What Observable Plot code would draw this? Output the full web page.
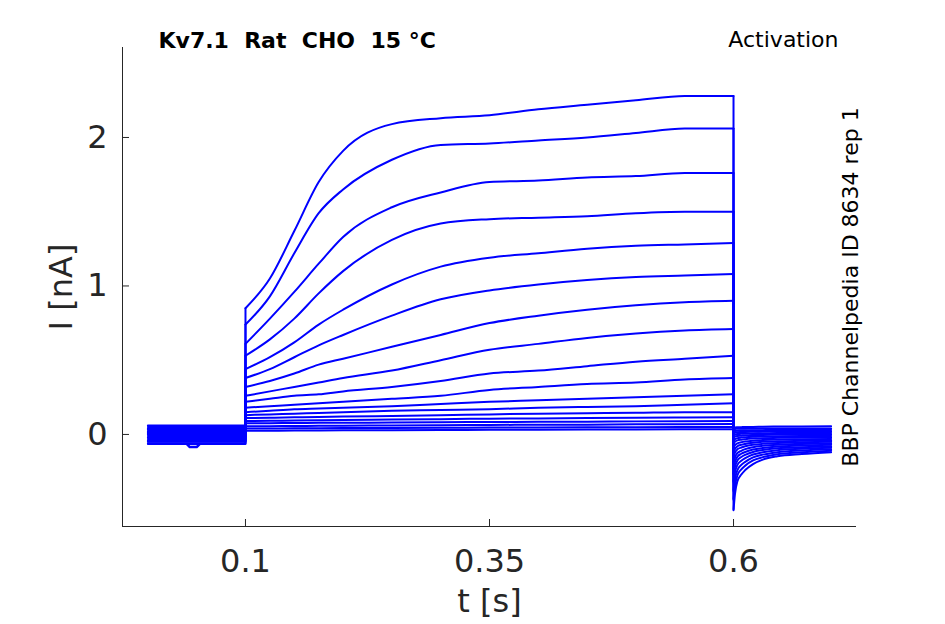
<!DOCTYPE html>
<html>
<head>
<meta charset="utf-8">
<script src="https://cdn.jsdelivr.net/npm/d3@7"></script>
<script src="https://cdn.jsdelivr.net/npm/@observablehq/plot@0.6"></script>
<style>
  html, body { margin: 0; padding: 0; background: #fff; }
  svg text { white-space: pre; }
</style>
</head>
<body>
<div id="chart"></div>
<script>
// ---- tick labels ----
const xTicks = [0.1, 0.35, 0.6];
const xTickLabels = ["0.1", "0.35", "0.6"];
const yTicks = [0, 1, 2];
const yTickLabels = ["0", "1", "2"];

// ---- holding period (t = 0 .. 0.1 s), one level per sweep [nA] ----
const baseT = [0, 0.1];
const baseLevel = [0.01, -0.03, 0.04, -0.05, 0.02, -0.01, 0.05, -0.06, 0.0,
                   0.03, -0.04, 0.06, -0.02, 0.015, -0.065, 0.035, -0.045, 0.005];
// short dip seen in the lowest holding sweep
const dipT = [0.040, 0.043, 0.050, 0.053];
const dipI = [-0.065, -0.085, -0.085, -0.065];

// ---- test pulse (t = 0.1 .. 0.6 s) ----
const pulseT = [0.1, 0.125, 0.15, 0.175, 0.2, 0.25, 0.3, 0.35, 0.4, 0.45, 0.5, 0.55, 0.6];
const pulse = [
  [0.85, 1.05, 1.37, 1.70, 1.91, 2.09, 2.13, 2.15, 2.19, 2.22, 2.25, 2.28, 2.28],
  [0.74, 0.93, 1.22, 1.49, 1.65, 1.85, 1.95, 1.96, 1.98, 2.00, 2.03, 2.06, 2.06],
  [0.61, 0.78, 0.96, 1.15, 1.33, 1.53, 1.63, 1.70, 1.71, 1.73, 1.74, 1.76, 1.76],
  [0.53, 0.64, 0.78, 0.95, 1.10, 1.31, 1.42, 1.45, 1.46, 1.47, 1.49, 1.50, 1.50],
  [0.44, 0.52, 0.62, 0.74, 0.84, 1.01, 1.13, 1.19, 1.22, 1.25, 1.27, 1.28, 1.29],
  [0.38, 0.44, 0.52, 0.60, 0.67, 0.80, 0.91, 0.97, 1.01, 1.04, 1.06, 1.07, 1.08],
  [0.32, 0.36, 0.41, 0.47, 0.51, 0.59, 0.67, 0.75, 0.80, 0.84, 0.87, 0.89, 0.90],
  [0.26, 0.29, 0.32, 0.35, 0.38, 0.43, 0.50, 0.57, 0.61, 0.65, 0.68, 0.70, 0.71],
  [0.22, 0.24, 0.26, 0.27, 0.29, 0.32, 0.36, 0.41, 0.43, 0.46, 0.49, 0.51, 0.53],
  [0.18, 0.19, 0.20, 0.21, 0.22, 0.24, 0.26, 0.30, 0.32, 0.34, 0.35, 0.37, 0.38],
  [0.15, 0.16, 0.17, 0.175, 0.18, 0.19, 0.205, 0.22, 0.23, 0.24, 0.25, 0.26, 0.27],
  [0.13, 0.135, 0.14, 0.145, 0.15, 0.16, 0.165, 0.17, 0.18, 0.185, 0.19, 0.20, 0.21],
  [0.11, 0.112, 0.115, 0.118, 0.12, 0.125, 0.13, 0.135, 0.14, 0.143, 0.146, 0.15, 0.15],
  [0.09, 0.092, 0.094, 0.096, 0.098, 0.10, 0.103, 0.106, 0.108, 0.11, 0.112, 0.114, 0.115],
  [0.075, 0.076, 0.077, 0.078, 0.079, 0.08, 0.082, 0.084, 0.085, 0.086, 0.088, 0.089, 0.09],
  [0.055, 0.056, 0.057, 0.058, 0.059, 0.06, 0.062, 0.064, 0.065, 0.066, 0.068, 0.069, 0.07],
  [0.04, 0.04, 0.041, 0.042, 0.043, 0.044, 0.045, 0.046, 0.047, 0.048, 0.049, 0.05, 0.05],
  [0.025, 0.025, 0.026, 0.027, 0.028, 0.029, 0.03, 0.031, 0.032, 0.033, 0.034, 0.035, 0.035]
];

// ---- tail currents after the pulse (t = 0.6 .. 0.7 s) ----
const tailT = [0.6, 0.6015, 0.604, 0.608, 0.612, 0.62, 0.63, 0.645, 0.67, 0.7];
const tail = [
  [-0.51, -0.40, -0.315, -0.27, -0.24, -0.20, -0.17, -0.147, -0.132, -0.12],
  [-0.44, -0.35, -0.275, -0.235, -0.21, -0.175, -0.153, -0.133, -0.12, -0.11],
  [-0.38, -0.30, -0.24, -0.205, -0.185, -0.155, -0.136, -0.12, -0.108, -0.10],
  [-0.32, -0.255, -0.205, -0.177, -0.16, -0.135, -0.12, -0.106, -0.097, -0.09],
  [-0.27, -0.217, -0.175, -0.152, -0.137, -0.118, -0.105, -0.093, -0.086, -0.08],
  [-0.23, -0.185, -0.15, -0.13, -0.118, -0.102, -0.091, -0.081, -0.075, -0.07],
  [-0.19, -0.154, -0.125, -0.11, -0.099, -0.086, -0.077, -0.069, -0.064, -0.06],
  [-0.15, -0.122, -0.10, -0.088, -0.08, -0.07, -0.063, -0.057, -0.053, -0.05],
  [-0.12, -0.098, -0.08, -0.07, -0.064, -0.056, -0.05, -0.046, -0.042, -0.04],
  [-0.09, -0.073, -0.06, -0.053, -0.048, -0.042, -0.038, -0.034, -0.032, -0.03],
  [-0.06, -0.049, -0.04, -0.035, -0.032, -0.028, -0.025, -0.023, -0.021, -0.02],
  [-0.04, -0.032, -0.025, -0.021, -0.019, -0.016, -0.014, -0.012, -0.011, -0.01],
  [-0.02, -0.014, -0.01, -0.008, -0.006, -0.004, -0.003, -0.001, 0.0, 0.0],
  [-0.005, 0.0, 0.003, 0.004, 0.006, 0.007, 0.008, 0.009, 0.01, 0.01],
  [0.01, 0.013, 0.015, 0.016, 0.017, 0.018, 0.019, 0.02, 0.02, 0.02],
  [0.02, 0.023, 0.025, 0.026, 0.027, 0.028, 0.029, 0.03, 0.03, 0.03],
  [0.035, 0.037, 0.038, 0.039, 0.039, 0.04, 0.04, 0.04, 0.04, 0.04],
  [0.045, 0.047, 0.048, 0.049, 0.05, 0.05, 0.052, 0.053, 0.054, 0.055]
];

// ---- build tables for the library ----
const segRows = [];
const steps = [];
pulse.forEach((p, k) => {
  baseT.forEach(t => segRows.push({key: `b${k}`, t, i: baseLevel[k]}));
  pulseT.forEach((t, j) => segRows.push({key: `p${k}`, t, i: p[j]}));
  tailT.forEach((t, j) => segRows.push({key: `t${k}`, t, i: tail[k][j]}));
  steps.push({t: pulseT[0], i1: baseLevel[k], i2: p[0]});
  steps.push({t: tailT[0], i1: p[p.length - 1], i2: tail[k][0]});
});
const dipRows = dipT.map((t, j) => ({t, i: dipI[j]}));

const blue = "#0000ff";
const ink = "#262626";
const xDomain = [-0.026, 0.726];
const yDomain = [-0.62, 2.606];
const mL = 122, mR = 89, mT = 47, mB = 98, W = 945, H = 624;
const tickLen = 7;
const sw = 2;

const chart = Plot.plot({
  width: W, height: H,
  marginLeft: mL, marginRight: mR, marginTop: mT, marginBottom: mB,
  x: {domain: xDomain},
  y: {domain: yDomain},
  style: {fontFamily: "DejaVu Sans", fontSize: "32px", color: ink, background: "#fff", overflow: "visible"},
  marks: [
    // frame lines (left + bottom)
    Plot.ruleY([yDomain[0]], {stroke: ink, strokeWidth: 1}),
    Plot.ruleX([xDomain[0]], {stroke: ink, strokeWidth: 1}),
    // inward ticks
    Plot.ruleX(xTicks, {x: d => d, insetTop: (H - mT - mB) - tickLen, stroke: ink}),
    Plot.ruleY(yTicks, {y: d => d, insetRight: (W - mL - mR) - tickLen, stroke: ink}),
    Plot.axisX(xTicks, {tickSize: 0, tickPadding: 23, label: null, fill: ink, fontSize: 32,
      tickFormat: d => xTickLabels[xTicks.indexOf(d)]}),
    Plot.axisY(yTicks, {tickSize: 0, tickPadding: 15, label: null, fill: ink, fontSize: 32,
      tickFormat: d => yTickLabels[yTicks.indexOf(d)]}),
    // sweeps
    Plot.line(segRows, {x: "t", y: "i", z: "key", stroke: blue, strokeWidth: sw, curve: "monotone-x"}),
    Plot.line(dipRows, {x: "t", y: "i", stroke: blue, strokeWidth: 2.6}),
    Plot.ruleX(steps, {x: "t", y1: "i1", y2: "i2", stroke: blue, strokeWidth: sw}),
    // texts
    Plot.text(["t [s]"], {frameAnchor: "bottom", dy: 75, lineAnchor: "middle", textAnchor: "middle",
      fontSize: 32, fill: ink}),
    Plot.text(["I [nA]"], {frameAnchor: "left", dx: -61, rotate: -90, lineAnchor: "middle",
      textAnchor: "middle", fontSize: 32, fill: ink}),
    Plot.text(["Kv7.1  Rat  CHO  15 °C"], {frameAnchor: "top-left", dx: 36, dy: -7, textAnchor: "start",
      lineAnchor: "middle", fontWeight: "bold", fontSize: 22, fill: "#000"}),
    Plot.text(["Activation"], {frameAnchor: "top-right", dx: -18, dy: -8, textAnchor: "end",
      lineAnchor: "middle", fontSize: 22, fill: "#000"}),
    Plot.text(["BBP Channelpedia ID 8634 rep 1"], {frameAnchor: "right", dx: -6, rotate: -90,
      lineAnchor: "middle", textAnchor: "middle", fontSize: 22, fill: "#000"})
  ]
});
document.getElementById("chart").appendChild(chart);
</script>
</body>
</html>
